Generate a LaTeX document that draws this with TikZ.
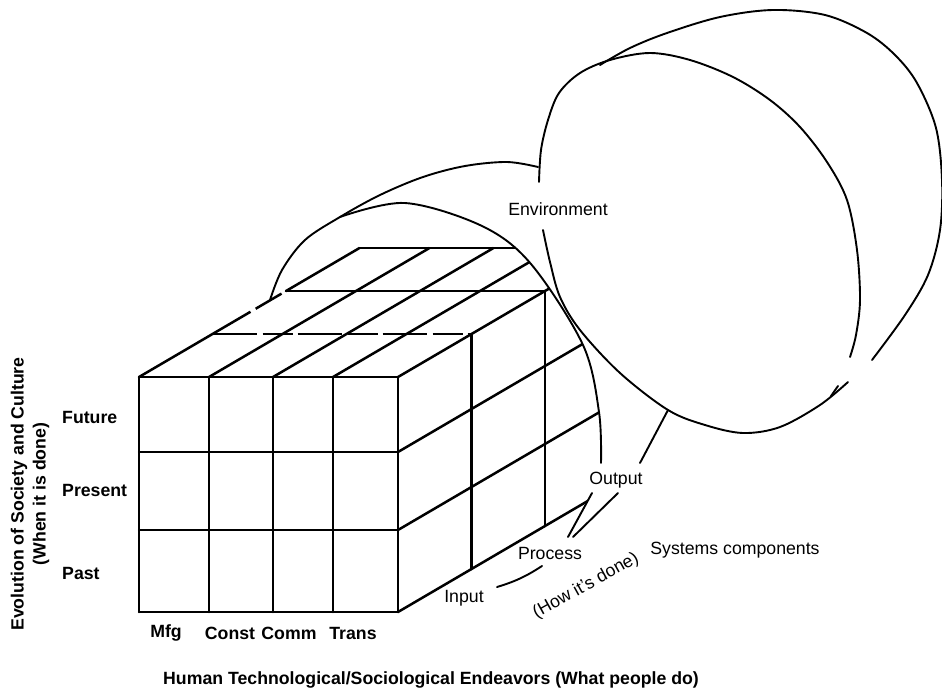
\documentclass[tikz,border=0pt]{standalone}
\usepackage{fontspec}
\setmainfont{Liberation Sans}
\begin{document}
\begin{tikzpicture}[x=1pt,y=-1pt,
  edge/.style={line width=2.5pt, line cap=round, line join=round},
  brokenedge/.style={edge, line cap=butt, dash pattern=on 44pt off 6pt on 30pt off 5pt},
  rim/.style={line width=1.9pt, line cap=round, line join=round},
  lbl/.style={inner sep=0pt, font=\fontsize{17.7}{20}\selectfont},
  blbl/.style={inner sep=0pt, font=\fontsize{17.7}{20}\selectfont\bfseries}]
\useasboundingbox (0,0) rectangle (942,696);
% depth step of the cube (one layer back)
\def\dx{73.5}\def\dy{-43}

% ---------- cube: front face ----------
\foreach \x in {139,209,273,333,398} \draw[edge] (\x,377) -- (\x,612);
\foreach \y in {377,452,530,612} \draw[edge] (139,\y) -- (398,\y);

% ---------- cube: top and right faces, cut by the tube opening ----------
\begin{scope}
  \clip (0,696) -- (0,0) -- (340,0) --
    plot[smooth, tension=.55] coordinates {(340,217) (405,203) (482,226) (531,264) (583,345) (599,412) (601,463)}
    -- (592,493) -- (568,537) -- (568,696) -- cycle;
  % top face, rows parallel to the front edge
  \draw[brokenedge] ({139+\dx},{377+\dy}) -- ({398+\dx},{377+\dy});
  \draw[edge] ({139+2*\dx},{377+2*\dy}) -- ({398+2*\dx},{377+2*\dy});
  \draw[edge] ({139+3*\dx},{377+3*\dy}) -- ({398+3*\dx},{377+3*\dy});
  % top face, lines running back
  \draw[edge] (139,377) -- ++(\dx,\dy);
  \draw[brokenedge] ({139+\dx},{377+\dy}) -- ++(\dx,\dy);
  \draw[edge] ({139+2*\dx},{377+2*\dy}) -- ++(\dx,\dy);
  \foreach \x in {209,273,333,398}
    \draw[edge] (\x,377) -- ++({3*\dx},{3*\dy});
  % right face, verticals
  \draw[edge] ({398+\dx},{377+\dy}) -- ({398+\dx},{612+\dy});
  \draw[edge] ({398+2*\dx},{377+2*\dy}) -- ({398+2*\dx},{612+2*\dy});
  % right face, rows running back
  \foreach \y in {452,530,612}
    \draw[edge] (398,\y) -- ++({3*\dx},{3*\dy});
\end{scope}

% ---------- tube round the cube ----------
\draw[rim] plot[smooth, tension=.55] coordinates {(270,300) (282,270) (305,240) (340,217) (380,195) (423,177) (465,166) (507,162) (538,167)};
\draw[rim] plot[smooth, tension=.55] coordinates {(340,217) (405,203) (482,226) (531,264) (583,345) (599,412) (601,463)};

% ---------- large environment shell ----------
\draw[rim] plot[smooth, tension=.55] coordinates {(539,182) (541,150) (548,120) (559,93) (580,73) (610,60) (650,53) (690,60) (733,77) (770,100) (800,127) (827,162) (847,200) (857,250) (860,300) (856,335) (850,357)};
\draw[rim] plot[smooth, tension=.55] coordinates {(543,230) (550,262) (560,297) (580,330) (620,373) (668,410) (705,425) (743,433) (780,427) (820,405) (848,382)};
\draw[rim] (838,386) -- (831,396);
\draw[rim] plot[smooth, tension=.55] coordinates {(600,65) (630,48) (667,33) (720,17) (773,10) (825,15) (867,33) (895,55) (917,83) (936,128) (942,180) (940,230) (928,275) (905,315) (872,360)};

% ---------- converging lines towards the components ----------
\draw[rim] (668,410) -- (640,463);
\draw[rim] (592,493) -- (568,537);
\draw[rim] (618,493) -- (573,537);
\draw[rim] (542,566) to[bend left=8] (497,587);

% ---------- labels ----------
\node[lbl] (env) at (558,209) {Environment};
\node[lbl] (out) at (616,480) {Output};
\node[lbl] (proc) at (550,553) {Process};
\node[lbl] (inp) at (464,598) {Input};
\node[lbl, rotate=29] (how) at (586,586) {(How it's done)};
\node[lbl] (sys) at (735,550) {Systems components};

\node[blbl, anchor=west] (fut) at (62,417) {Future};
\node[blbl, anchor=west] (pres) at (62,490) {Present};
\node[blbl, anchor=west] (past) at (62,573) {Past};

\node[blbl] (mfg) at (166,633) {Mfg};
\node[blbl] (const) at (230,633) {Const};
\node[blbl] (comm) at (289,633) {Comm};
\node[blbl] (trans) at (353,633) {Trans};

\node[blbl] (what) at (431,680) {Human Technological/Sociological Endeavors (What people do)};
\node[blbl, rotate=90] (when1) at (19,494) {Evolution of Society and Culture};
\node[blbl, rotate=90] (when2) at (41,494) {(When it is done)};
\end{tikzpicture}
\end{document}
